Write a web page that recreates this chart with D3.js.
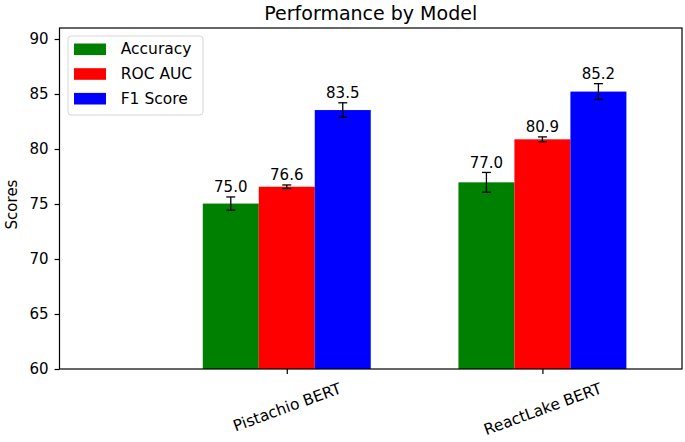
<!DOCTYPE html>
<html lang="en">
<head>
    <meta charset="UTF-8">
    <script src="https://d3js.org/d3.v7.min.js"></script>
    <title>Performance by Model</title>
    <style>
        body {
            margin: 0;
            background: #fff;
            font-family: 'DejaVu Sans', sans-serif;
        }
        text {
            fill: #000;
        }
    </style>
</head>
<body>
    <svg width="685" height="442"></svg>
    <script>
        // Data
        const models = ["Pistachio BERT", "ReactLake BERT"];
        const metrics = ["Accuracy", "ROC AUC", "F1 Score"];
        const colors = ["green", "red", "blue"];
        const accuracy = [75.04, 76.97];
        const accuracyErr = [0.6, 0.9];
        const rocAuc = [76.57, 80.88];
        const rocAucErr = [0.16, 0.22];
        const f1Score = [83.54, 85.22];
        const f1ScoreErr = [0.66, 0.72];
        const yTicks = [60, 65, 70, 75, 80, 85, 90];

        const series = [
            { name: metrics[0], values: accuracy, errs: accuracyErr, color: colors[0] },
            { name: metrics[1], values: rocAuc, errs: rocAucErr, color: colors[1] },
            { name: metrics[2], values: f1Score, errs: f1ScoreErr, color: colors[2] }
        ];

        const width = 685;
        const height = 442;
        const margin = { top: 28, right: 3, bottom: 73, left: 59.5 };
        const barWidth = 0.219;

        const svg = d3.select("svg");

        // Scales (axis limits as in the original plot)
        const x = d3.scaleLinear()
            .domain([-0.889, 1.546])
            .range([margin.left, width - margin.right]);

        const y = d3.scaleLinear()
            .domain([60, 91])
            .range([height - margin.bottom, margin.top]);

        // Bars
        series.forEach((s, i) => {
            const offset = (i - 1) * barWidth;
            svg.selectAll(".bar-" + i)
                .data(s.values)
                .enter().append("rect")
                .attr("x", (d, j) => x(j + offset - barWidth / 2))
                .attr("y", d => y(d))
                .attr("width", x(barWidth) - x(0))
                .attr("height", d => y(60) - y(d))
                .attr("fill", s.color);
        });

        // Error bars and value labels
        series.forEach((s, i) => {
            const offset = (i - 1) * barWidth;
            s.values.forEach((v, j) => {
                const cx = x(j + offset);
                const e = s.errs[j];
                const g = svg.append("g").attr("stroke", "#000").attr("stroke-width", 1.3);
                g.append("line").attr("x1", cx).attr("x2", cx).attr("y1", y(v - e)).attr("y2", y(v + e));
                g.append("line").attr("x1", cx - 4.5).attr("x2", cx + 4.5).attr("y1", y(v - e)).attr("y2", y(v - e));
                g.append("line").attr("x1", cx - 4.5).attr("x2", cx + 4.5).attr("y1", y(v + e)).attr("y2", y(v + e));

                svg.append("text")
                    .attr("x", cx)
                    .attr("y", y(v + e) - 4.5)
                    .attr("text-anchor", "middle")
                    .style("font-size", "15px")
                    .text(v.toFixed(1));
            });
        });

        // Y axis
        const yAxis = svg.append("g")
            .attr("transform", `translate(${margin.left},0)`)
            .call(d3.axisLeft(y).tickValues(yTicks).tickSize(4.9).tickPadding(6));
        yAxis.select(".domain").remove();
        yAxis.selectAll(".tick line").attr("stroke-width", 1.2);
        yAxis.selectAll("text")
            .style("font-size", "15px")
            .style("font-family", "'DejaVu Sans', sans-serif");

        // X axis
        const xAxis = svg.append("g")
            .attr("transform", `translate(0,${height - margin.bottom})`)
            .call(d3.axisBottom(x).tickValues([0, 1]).tickSize(4.9).tickFormat((d, i) => models[i]));
        xAxis.select(".domain").remove();
        xAxis.selectAll(".tick line").attr("stroke-width", 1.2);
        xAxis.selectAll(".tick text").each(function () {
            const t = d3.select(this)
                .style("font-size", "15.5px")
                .style("font-family", "'DejaVu Sans', sans-serif")
                .attr("dy", null)
                .attr("y", 0)
                .attr("dominant-baseline", "central");
            const w = this.getComputedTextLength();
            const h = 18;
            const a = 20 * Math.PI / 180;
            const boxH = w * Math.sin(a) + h * Math.cos(a);
            const cy = 4.9 + 5.6 + boxH / 2;
            t.attr("transform", `translate(0,${cy}) rotate(-20)`);
        });

        // Spines
        svg.append("rect")
            .attr("x", margin.left)
            .attr("y", margin.top)
            .attr("width", width - margin.right - margin.left)
            .attr("height", height - margin.bottom - margin.top)
            .attr("fill", "none")
            .attr("stroke", "#000")
            .attr("stroke-width", 1.2);

        // Y label
        svg.append("text")
            .attr("transform", `translate(12,${(margin.top + height - margin.bottom) / 2 + 6}) rotate(-90)`)
            .attr("text-anchor", "middle")
            .attr("dominant-baseline", "central")
            .style("font-size", "15px")
            .text("Scores");

        // Title
        svg.append("text")
            .attr("x", (margin.left + width - margin.right) / 2)
            .attr("y", 20)
            .attr("text-anchor", "middle")
            .style("font-size", "19px")
            .text("Performance by Model");

        // Legend
        const legend = svg.append("g").attr("transform", "translate(68,36)");
        legend.append("rect")
            .attr("width", 135)
            .attr("height", 79)
            .attr("rx", 3)
            .attr("fill", "#fff")
            .attr("fill-opacity", 0.8)
            .attr("stroke", "#d6d6d6");
        series.forEach((s, i) => {
            const row = legend.append("g").attr("transform", `translate(0,${13.3 + i * 24.7})`);
            row.append("rect")
                .attr("x", 6)
                .attr("y", -5.8)
                .attr("width", 32)
                .attr("height", 11.6)
                .attr("fill", s.color);
            row.append("text")
                .attr("x", 52.7)
                .attr("y", 0)
                .attr("dominant-baseline", "central")
                .style("font-size", "15.5px")
                .text(s.name);
        });
    </script>
</body>
</html>
